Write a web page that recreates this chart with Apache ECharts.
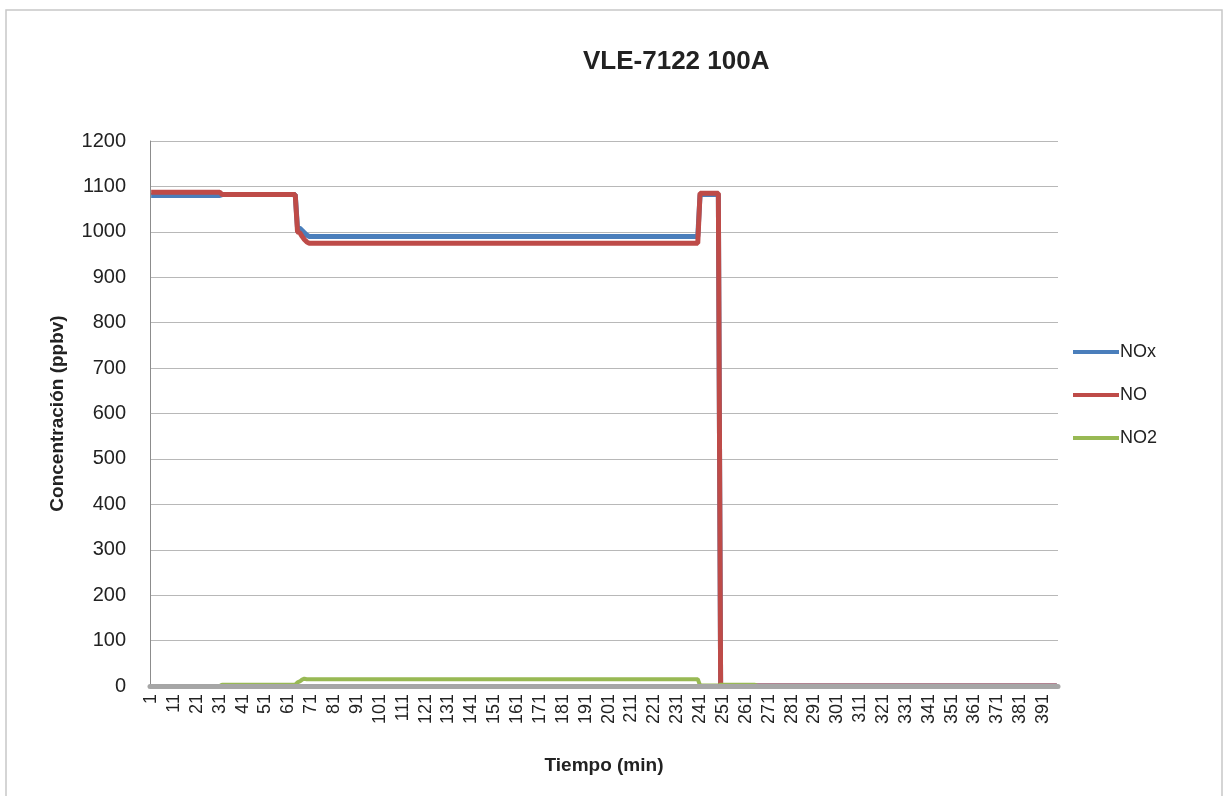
<!DOCTYPE html>
<html>
<head>
<meta charset="utf-8">
<script src="https://cdn.jsdelivr.net/npm/echarts@6/dist/echarts.min.js"></script>
<style>html,body{margin:0;padding:0;background:#fff;}#c{width:1231px;height:796px;}</style>
</head>
<body>
<div id="c"></div>
<script>
// Category count (minutes 1..397), labels shown every 10 (1, 11, ..., 391)
const categoryCount = 397;
const categories = [];
for (let i = 1; i <= categoryCount; i++) categories.push(String(i));

// Run-length readings [count, value] (ppbv)
const noxRuns = [[31,1080],[33,1082],[2,1008],[1,1003],[1,998],[1,993],[171,990],[9,1082],[148,0]];
const noRuns  = [[31,1087],[33,1082],[1,1000],[1,998],[1,990],[1,983],[1,978],[171,975],[9,1085],[148,0]];
const no2Runs = [[31,0],[33,3],[1,8],[1,10],[1,14],[1,16],[1,15],[171,15],[9,1],[16,3],[132,0]];

const seriesNames = ['NOx','NO','NO2'];
const yTicks = [0,100,200,300,400,500,600,700,800,900,1000,1100,1200];

function expand(runs){ const out=[]; runs.forEach(([n,v])=>{ for(let k=0;k<n;k++) out.push(v); }); return out; }
const nox = expand(noxRuns), no = expand(noRuns), no2 = expand(no2Runs);

const font = 'Liberation Sans, Arial, sans-serif';
const chart = echarts.init(document.getElementById('c'), null, {renderer:'canvas'});
chart.setOption({
  backgroundColor:'#fff',
  animation:false,
  graphic:[{type:'rect', shape:{x:6,y:10,width:1216,height:800}, style:{fill:'none', stroke:'#c8c8c8', lineWidth:1.5}, z:-1}],
  title:{text:'VLE-7122 100A', top:44, left:578, textStyle:{fontFamily:font, fontSize:26, fontWeight:'bold', color:'#222'}},
  legend:{orient:'vertical', left:1068, top:338, itemWidth:46, itemHeight:4, itemGap:25, icon:'rect',
    textStyle:{fontFamily:font, fontSize:18, color:'#222', padding:[0,0,0,-4]}, data:seriesNames},
  grid:{left:150, right:173, top:141, bottom:110, containLabel:false},
  xAxis:{type:'category', data:categories, boundaryGap:true, z:5,
    name:'Tiempo (min)', nameLocation:'middle', nameGap:70,
    nameTextStyle:{fontFamily:font, fontSize:19, fontWeight:'bold', color:'#222'},
    axisLine:{lineStyle:{color:'#a6a6a6', width:5}},
    axisTick:{show:false},
    axisLabel:{interval:9, rotate:90, fontFamily:font, fontSize:18, color:'#222', margin:8}},
  yAxis:{type:'value', min:yTicks[0], max:yTicks[yTicks.length-1], interval:100,
    name:'Concentración (ppbv)', nameLocation:'middle', nameGap:83,
    nameTextStyle:{fontFamily:font, fontSize:19, fontWeight:'bold', color:'#222'},
    axisLine:{show:true, lineStyle:{color:'#8c8c8c', width:1}},
    axisTick:{show:false},
    splitLine:{lineStyle:{color:'#b8b8b8', width:1}},
    axisLabel:{fontFamily:font, fontSize:20, color:'#222', margin:24, formatter:(v)=>String(v)}},
  series:[
    {name:'NOx', type:'line', data:nox, showSymbol:false, symbol:'none', lineStyle:{width:5, color:'#4a7ebb'}, itemStyle:{color:'#4a7ebb'}, z:2},
    {name:'NO', type:'line', data:no, showSymbol:false, symbol:'none', lineStyle:{width:5, color:'#be4b48'}, itemStyle:{color:'#be4b48'}, z:3},
    {name:'NO2', type:'line', data:no2, showSymbol:false, symbol:'none', lineStyle:{width:4, color:'#98b954'}, itemStyle:{color:'#98b954'}, z:4}
  ]
});
</script>
</body>
</html>
